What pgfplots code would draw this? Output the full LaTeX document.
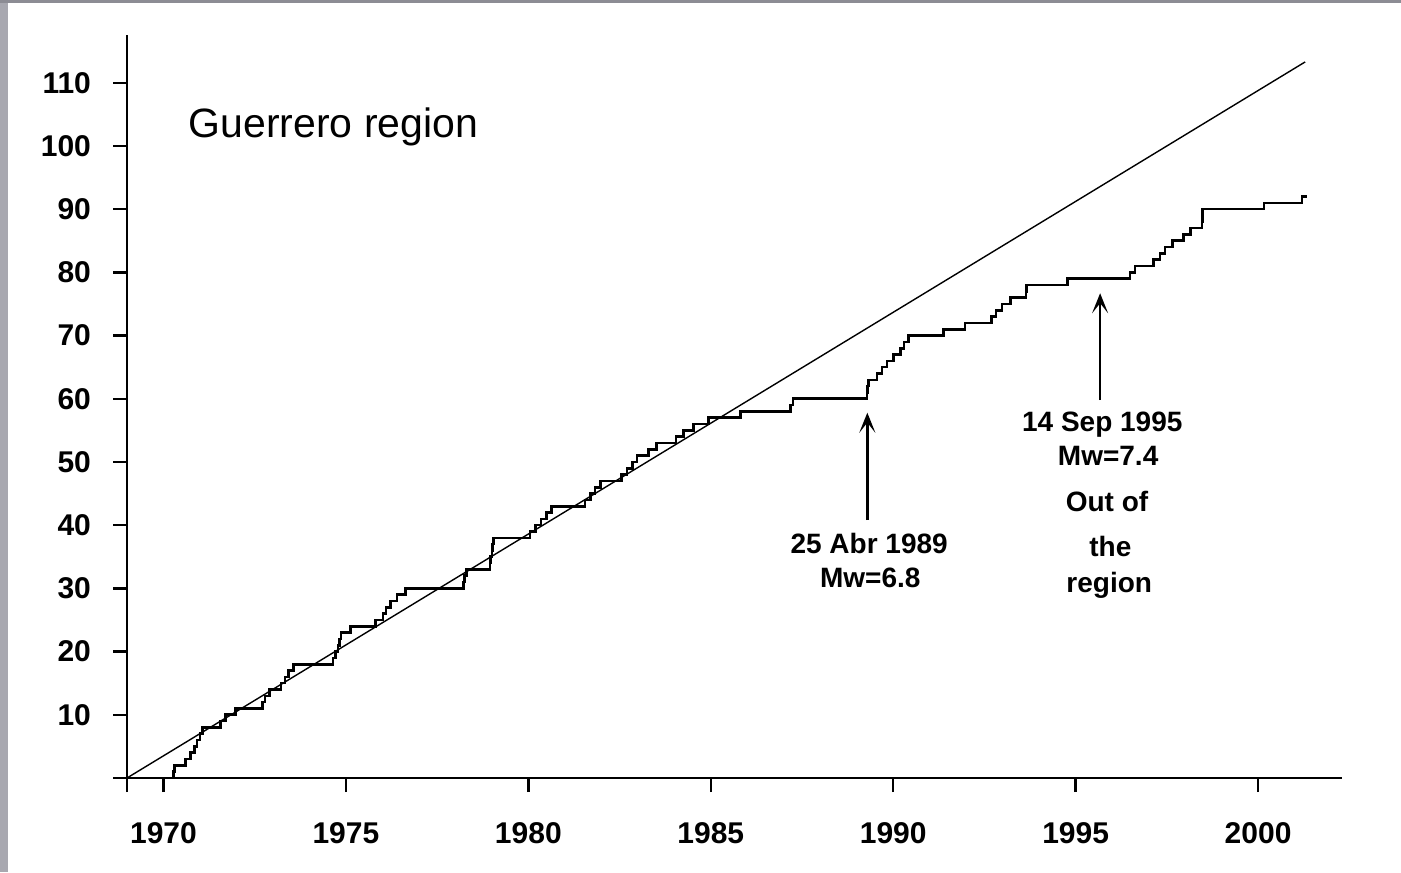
\documentclass[border=0pt]{standalone}
\usepackage{pgfplots}
\pgfplotsset{compat=1.18}
\usepackage{fontspec}
\setmainfont{Liberation Sans}
\usetikzlibrary{arrows.meta}
\definecolor{frameside}{RGB}{168,168,176}
\definecolor{frametop}{RGB}{140,140,148}

\begin{document}
\begin{tikzpicture}
% page with a grey frame on the left and top edges
\fill[frameside] (-63.5pt,-47pt) rectangle (637pt,389pt);
\fill[frametop] (-63.5pt,387.5pt) rectangle (637pt,389pt);
\fill[white] (-59.5pt,-47pt) rectangle (637pt,387.5pt);
\begin{axis}[
  scale only axis, width=607.5pt, height=371.5pt,
  xmin=1969, xmax=2002.3, ymin=0, ymax=117.56,
  axis lines=left, axis line style={-, line width=1.2pt},
  tick align=outside, major tick length=7pt,
  tick style={line width=1.2pt, black},
  xtick={1970,1975,...,2000}, ytick={10,20,...,110},
  extra x ticks={1969}, extra x tick labels={},
  extra y ticks={0}, extra y tick labels={},
  /pgf/number format/1000 sep={},
  /pgf/number format/assume math mode=true,
  tick label style={font=\fontsize{15}{18}\selectfont\bfseries},
  xticklabel style={yshift=-11.5pt},
  yticklabel style={xshift=-7.5pt},
  clip=false,
]
% cumulative number of events (step function)
\addplot[const plot, line width=1.3pt, black] coordinates {
(1970.25,0) (1970.27,1) (1970.30,2) (1970.60,3) (1970.74,4) (1970.85,5)
(1970.92,6) (1971.00,7) (1971.07,8) (1971.56,9) (1971.70,10) (1971.97,11)
(1972.72,12) (1972.78,13) (1972.90,14) (1973.22,15) (1973.33,16) (1973.42,17)
(1973.57,18) (1974.65,19) (1974.72,20) (1974.78,21) (1974.82,22) (1974.86,23)
(1975.12,24) (1975.81,25) (1976.02,26) (1976.10,27) (1976.22,28) (1976.40,29)
(1976.63,30) (1978.22,31) (1978.25,32) (1978.30,33) (1978.95,34) (1978.97,35)
(1979.00,36) (1979.02,37) (1979.05,38) (1980.05,39) (1980.20,40) (1980.35,41)
(1980.50,42) (1980.63,43) (1981.55,44) (1981.70,45) (1981.83,46) (1981.98,47)
(1982.56,48) (1982.70,49) (1982.85,50) (1982.98,51) (1983.30,52) (1983.52,53)
(1984.05,54) (1984.25,55) (1984.53,56) (1984.94,57) (1985.81,58) (1987.18,59)
(1987.25,60) (1989.28,61) (1989.30,62) (1989.33,63) (1989.55,64) (1989.69,65)
(1989.83,66) (1990.01,67) (1990.20,68) (1990.30,69) (1990.42,70) (1991.38,71)
(1991.97,72) (1992.70,73) (1992.82,74) (1992.98,75) (1993.21,76) (1993.64,77)
(1993.66,78) (1994.78,79) (1996.49,80) (1996.63,81) (1997.13,82) (1997.31,83)
(1997.45,84) (1997.66,85) (1997.95,86) (1998.14,87) (1998.46,88) (1998.47,89)
(1998.48,90) (2000.16,91) (2001.20,92) (2001.33,92)
};
% constant-rate reference line
\addplot[line width=0.7pt, black] coordinates {(1969,0) (2001.29,113.3)};

\node[anchor=base west, inner sep=0pt, font=\fontsize{20.5}{24}\selectfont]
  at (axis cs:1970.68,101.3) {Guerrero region};

\draw[line width=1.2pt, -{Stealth[length=10pt,width=8pt,inset=5pt]}]
  (axis cs:1989.29,40.8) -- (axis cs:1989.29,57.8);
\draw[line width=1.2pt, -{Stealth[length=10pt,width=8pt,inset=5pt]}]
  (axis cs:1995.67,59.8) -- (axis cs:1995.67,76.7);

\begin{scope}[every node/.style={anchor=base, inner sep=0pt,
    font=\fontsize{14}{17}\selectfont\bfseries}]
\node at (axis cs:1989.34,35.6) {25 Abr 1989};
\node at (axis cs:1989.37,30.2) {Mw=6.8};
\node at (axis cs:1995.73,54.8) {14 Sep 1995};
\node at (axis cs:1995.89,49.5) {Mw=7.4};
\node at (axis cs:1995.86,42.1) {Out of};
\node at (axis cs:1995.95,35.0) {the};
\node at (axis cs:1995.92,29.4) {region};
\end{scope}
\end{axis}
\end{tikzpicture}
\end{document}
